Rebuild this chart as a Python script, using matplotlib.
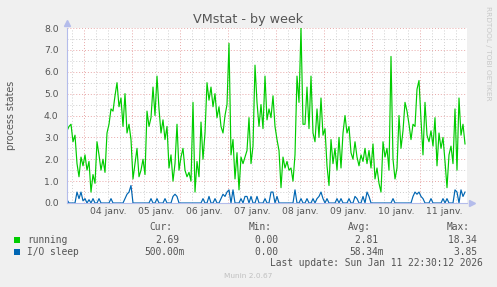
import matplotlib
matplotlib.use("Agg")
import matplotlib.pyplot as plt
import numpy as np

# hourly samples, first one at 03 janv. 15:30
running = [
    3.3, 3.5, 3.6, 2.8, 3.1, 1.8, 1.2, 2.1, 1.7, 2.2, 1.5, 1.9, 0.5, 1.3, 0.9, 2.8, 2.2, 1.5, 2.0, 1.4,
    3.2, 3.6, 4.3, 4.2, 4.9, 5.5, 4.4, 4.8, 3.5, 5.0, 3.2, 3.6, 2.9, 1.1, 1.8, 2.5, 1.2, 1.5, 2.0, 1.3,
    4.2, 3.5, 3.9, 5.3, 4.0, 5.8, 4.3, 3.2, 3.8, 2.9, 3.5, 1.6, 2.2, 1.0, 1.8, 3.6, 1.5, 2.1, 2.5, 1.5,
    1.2, 1.4, 1.0, 4.6, 0.5, 1.9, 1.2, 3.7, 2.0, 3.2, 5.5, 4.7, 5.3, 4.4, 5.0, 3.9, 4.4, 3.5, 3.2, 4.0,
    4.5, 7.3, 2.2, 2.9, 1.1, 2.3, 0.6, 2.1, 1.8, 2.1, 2.4, 3.9, 1.8, 2.6, 6.3, 4.6, 3.5, 4.5, 3.4, 5.8,
    3.8, 4.3, 3.9, 4.9, 3.5, 2.9, 2.4, 0.7, 2.1, 1.6, 1.9, 1.5, 1.6, 1.0, 2.2, 5.8, 4.6, 8.0, 3.6, 3.6,
    5.3, 3.4, 5.8, 3.2, 2.8, 4.3, 3.0, 4.8, 3.1, 3.4, 1.7, 0.8, 2.9, 1.8, 2.5, 1.5, 3.0, 1.6, 3.2, 4.0,
    3.2, 3.5, 2.3, 2.0, 2.8, 2.1, 1.7, 2.2, 1.9, 2.5, 1.8, 2.4, 1.6, 2.7, 1.1, 1.6, 0.9, 0.5, 2.8, 2.1,
    2.5, 1.5, 6.7, 2.0, 1.1, 1.6, 4.0, 2.5, 3.3, 4.6, 4.2, 3.6, 2.9, 3.6, 3.5, 5.2, 5.6, 3.8, 2.2, 4.6,
    3.1, 2.8, 3.3, 2.6, 3.9, 1.7, 3.2, 2.5, 3.0, 1.9, 0.7, 2.2, 2.6, 1.8, 4.3, 1.5, 4.8, 3.1, 3.6, 2.7,
]
io_sleep = [
    0.15, 0, 0, 0, 0, 0.5, 0.2, 0.5, 0.1, 0.2, 0, 0.15, 0, 0.2, 0, 0, 0.2, 0, 0, 0,
    0, 0, 0.2, 0, 0, 0, 0, 0, 0, 0.2, 0.4, 0.5, 0.8, 0, 0, 0, 0, 0, 0, 0,
    0, 0, 0.2, 0, 0, 0.2, 0, 0, 0, 0.2, 0, 0, 0, 0.3, 0.4, 0.3, 0, 0, 0, 0,
    0, 0, 0, 0, 0, 0, 0, 0, 0.2, 0, 0, 0.3, 0, 0, 0.2, 0, 0, 0.2, 0.4, 0.3,
    0.5, 0.6, 0, 0.6, 0, 0, 0, 0.2, 0, 0.3, 0.3, 0, 0.3, 0, 0, 0.3, 0, 0, 0, 0.2,
    0, 0, 0.5, 0.5, 0, 0.3, 0, 0, 0, 0, 0, 0, 0, 0, 0.6, 0, 0, 0.2, 0, 0,
    0.2, 0, 0, 0.2, 0, 0.2, 0.3, 0.5, 0.2, 0, 0.2, 0, 0, 0, 0, 0.2, 0, 0.2, 0, 0,
    0, 0.2, 0, 0, 0.3, 0.2, 0, 0, 0.3, 0, 0.5, 0.3, 0, 0, 0, 0, 0, 0, 0, 0,
    0, 0, 0, 0.2, 0, 0, 0, 0, 0, 0, 0, 0, 0, 0.3, 0.5, 0.4, 0.5, 0.3, 0.2, 0,
    0, 0, 0.2, 0, 0, 0, 0, 0, 0.2, 0, 0.2, 0, 0, 0, 0.6, 0.5, 0, 0.6, 0.3, 0.5,
]
day_labels = ["04 janv.", "05 janv.", "06 janv.", "07 janv.",
              "08 janv.", "09 janv.", "10 janv.", "11 janv."]
series_names = ["running", "I/O sleep"]
series_colors = ["#00cc00", "#0066b3"]
cur_vals = ["2.69", "500.00m"]
min_vals = ["0.00", "0.00"]
avg_vals = ["2.81", "58.34m"]
max_vals = ["18.34", "3.85"]

W, H = 497, 287
BG = "#f0f0f0"
TXT = "#555555"
AXC = "#b4bceb"


def fx(px):
    return px / W


def fy(py):
    return 1 - py / H


fig = plt.figure(figsize=(W / 100, H / 100), dpi=100, facecolor=BG)
ax = fig.add_axes([fx(67), fy(203), (467 - 67) / W, (203 - 28) / H])
ax.set_facecolor("white")

# hours since 04 janv. 00:00
hours = np.arange(len(running)) - 8.5
ax.set_xlim(-8.5, 191.5)
ax.set_ylim(0, 8)

dot = (0, (1, 2))
for h in np.arange(-6, 192, 6):
    if h % 24 == 0:
        ax.axvline(h, color="#e8a8a8", lw=0.7, ls=dot, zorder=1)
    else:
        ax.axvline(h, color="#cfcfcf", lw=0.7, ls=dot, zorder=1)
for v in np.arange(0.5, 8.01, 0.5):
    if v % 1 == 0:
        ax.axhline(v, color="#e8a8a8", lw=0.7, ls=dot, zorder=1)
    else:
        ax.axhline(v, color="#cfcfcf", lw=0.7, ls=dot, zorder=1)

ax.plot(hours, running, color=series_colors[0], lw=0.85, zorder=3)
ax.plot(hours, io_sleep, color=series_colors[1], lw=0.85, zorder=4)

ax.set_xticks(np.arange(len(day_labels)) * 24 + 12)
ax.set_xticklabels(day_labels)
ax.set_yticks(np.arange(0, 8.01, 1))
ax.set_yticklabels(["%.1f" % v for v in np.arange(0, 8.01, 1)])
ax.tick_params(length=0, labelsize=6.7, colors=TXT, pad=3)
ax.tick_params(axis="y", pad=6)

for s in ["top", "right"]:
    ax.spines[s].set_visible(False)
for s in ["left", "bottom"]:
    ax.spines[s].set_color(AXC)
    ax.spines[s].set_linewidth(0.8)
    ax.spines[s].set_zorder(5)
ax.plot([1.012], [0], marker=">", color=AXC, ms=4, transform=ax.transAxes, clip_on=False)
ax.plot([0], [1.03], marker="^", color=AXC, ms=4, transform=ax.transAxes, clip_on=False)

fig.text(fx(248), fy(20), "VMstat - by week", ha="center", va="center", fontsize=9.2, color=TXT)
fig.text(fx(11), fy(115), "process states", ha="center", va="center", rotation=90,
         fontsize=6.9, color=TXT)
fig.text(fx(488), fy(6), "RRDTOOL / TOBI OETIKER", ha="center", va="top", rotation=270,
         fontsize=5.3, color="#c8c8c8")

mono = "DejaVu Sans Mono"
fs = 6.9
col_right = [184.5, 284, 383.5, 482.5]
col_head = ["Cur:", "Min:", "Avg:", "Max:"]
col_center = [160.5, 260.5, 359.5, 458.5]
for c, t in zip(col_center, col_head):
    fig.text(fx(c), fy(227), t, ha="center", va="center", family=mono, fontsize=fs, color=TXT)

rows_y = [240, 252]
for k in range(len(series_names)):
    y = rows_y[k]
    fig.patches.append(plt.Rectangle((fx(14), fy(y + 3)), 6 / W, 6 / H,
                                     transform=fig.transFigure, facecolor=series_colors[k],
                                     edgecolor="none"))
    fig.text(fx(27), fy(y), series_names[k], ha="left", va="center", family=mono,
             fontsize=fs, color=TXT)
    vals = [cur_vals[k], min_vals[k], avg_vals[k], max_vals[k]]
    for r, v in zip(col_right, vals):
        if not v.endswith("m"):
            v = v + " "
        fig.text(fx(r), fy(y), v, ha="right", va="center", family=mono, fontsize=fs, color=TXT)

fig.text(fx(483), fy(263), "Last update: Sun Jan 11 22:30:12 2026", ha="right", va="center",
         family=mono, fontsize=fs, color=TXT)
fig.text(fx(248), fy(276), "Munin 2.0.67", ha="center", va="center", fontsize=5.3,
         color="#c0c0c0")

fig.savefig("out.png", dpi=100, facecolor=BG)
